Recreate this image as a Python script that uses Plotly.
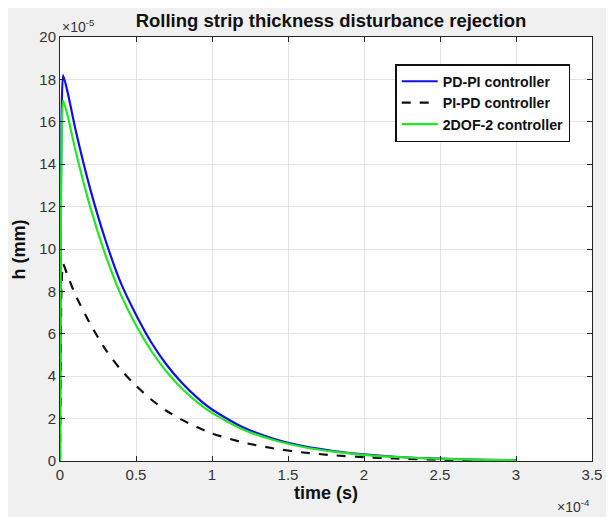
import plotly.graph_objects as go

# time in units of 1e-4 s, h in units of 1e-5 mm
t_pdpi = [0, 0.005, 0.01, 0.02, 0.05, 0.1, 0.2, 0.3, 0.4, 0.5, 0.6, 0.7, 0.8, 0.9,
          1.0, 1.2, 1.4, 1.6, 1.8, 2.0, 2.2, 2.5, 2.8, 3.0]
h_pdpi = [0, 10.5, 16.0, 18.2, 17.4, 15.7, 12.8, 10.4, 8.4, 6.9, 5.6, 4.55, 3.7, 3.0,
          2.43, 1.6, 1.06, 0.7, 0.47, 0.31, 0.20, 0.11, 0.06, 0.04]

t_pipd = [0, 0.005, 0.01, 0.02, 0.05, 0.1, 0.2, 0.3, 0.4, 0.5, 0.6, 0.7, 0.8, 0.9,
          1.0, 1.2, 1.4, 1.6, 1.8, 2.0, 2.2, 2.5, 2.8, 3.0]
h_pipd = [0, 5.5, 8.2, 9.3, 8.75, 7.85, 6.45, 5.25, 4.3, 3.55, 2.9, 2.37, 1.95, 1.6,
          1.3, 0.88, 0.6, 0.4, 0.27, 0.18, 0.12, 0.06, 0.03, 0.02]

t_2dof = [0, 0.005, 0.01, 0.02, 0.05, 0.1, 0.2, 0.3, 0.4, 0.5, 0.6, 0.7, 0.8, 0.9,
          1.0, 1.2, 1.4, 1.6, 1.8, 2.0, 2.2, 2.5, 2.8, 3.0]
h_2dof = [0, 10.0, 15.2, 17.0, 16.3, 14.7, 11.95, 9.7, 7.85, 6.4, 5.2, 4.22, 3.43, 2.79,
          2.27, 1.5, 1.0, 0.66, 0.44, 0.29, 0.19, 0.10, 0.055, 0.035]

x_ticks = [0, 0.5, 1, 1.5, 2, 2.5, 3, 3.5]
x_tick_text = ["0", "0.5", "1", "1.5", "2", "2.5", "3", "3.5"]
y_ticks = [0, 2, 4, 6, 8, 10, 12, 14, 16, 18, 20]

FONT = "Liberation Sans, Arial, sans-serif"
W, H = 606, 509          # page body has an 8px margin, so the figure fills the window
ML, MR, MT, MB = 52, 16, 29, 56
PW = W - ML - MR
PH = H - MT - MB

fig = go.Figure()
fig.add_trace(go.Scatter(x=t_pdpi, y=h_pdpi, mode="lines", name="<b>PD-PI controller</b>",
                         line=dict(color="#1010e8", width=2.2, shape="spline", smoothing=0.6)))
fig.add_trace(go.Scatter(x=t_pipd, y=h_pipd, mode="lines", name="<b>PI-PD controller</b>",
                         line=dict(color="#111111", width=2.2, dash="dash", shape="spline", smoothing=0.6)))
fig.add_trace(go.Scatter(x=t_2dof, y=h_2dof, mode="lines", name="<b>2DOF-2 controller</b>",
                         line=dict(color="#22e822", width=2.2, shape="spline", smoothing=0.6)))

axis_common = dict(
    showline=True, linecolor="#262626", linewidth=1, mirror="ticks",
    ticks="inside", ticklen=5, tickcolor="#262626",
    showgrid=True, gridcolor="#e3e3e3", gridwidth=1, zeroline=False,
    tickfont=dict(family=FONT, size=15, color="#333333"),
)

fig.update_layout(
    width=W, height=H,
    paper_bgcolor="#f0f0f0", plot_bgcolor="#ffffff",
    margin=dict(l=ML, r=MR, t=MT, b=MB),
    title=dict(text="<b>Rolling strip thickness disturbance rejection</b>",
               x=323 / W, xanchor="center", y=1 - 13 / H, yanchor="middle",
               font=dict(family=FONT, size=18.5, color="#111111")),
    xaxis=dict(range=[0, 3.5], tickvals=x_ticks, ticktext=x_tick_text,
               title=dict(text="<b>time (s)</b>", font=dict(family=FONT, size=18, color="#111111"),
                          standoff=4),
               **axis_common),
    yaxis=dict(range=[0, 20], tickvals=y_ticks, **axis_common),
    showlegend=True,
    legend=dict(x=(399 - 60) / PW, xanchor="left", y=1 - (64 - 37) / PH, yanchor="top",
                bgcolor="#ffffff", bordercolor="#111111", borderwidth=1.5,
                font=dict(family=FONT, size=14.2, color="#111111"),
                tracegroupgap=0, itemwidth=36),
)

fig.add_annotation(text="<b>h (mm)</b>", xref="paper", yref="paper",
                   x=(11 - ML) / PW, y=0.5, textangle=-90, showarrow=False,
                   xanchor="center", yanchor="middle",
                   font=dict(family=FONT, size=18, color="#111111"))
fig.add_annotation(text="×10<sup>-5</sup>", xref="paper", yref="paper",
                   x=0.0, y=1.0, xanchor="left", yanchor="bottom", yshift=0, showarrow=False,
                   font=dict(family=FONT, size=14, color="#333333"))
fig.add_annotation(text="×10<sup>-4</sup>", xref="paper", yref="paper",
                   x=1.0, y=0, xanchor="right", yanchor="middle", yshift=-45, showarrow=False,
                   font=dict(family=FONT, size=14, color="#333333"))

fig.write_html("out.html")
